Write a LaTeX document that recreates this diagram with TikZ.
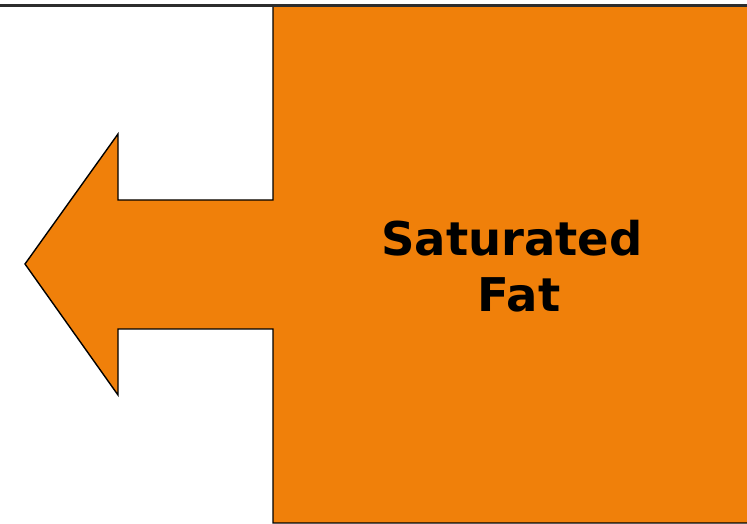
\documentclass[tikz,border=0pt]{standalone}
\usepackage{fontspec}
\setmainfont{DejaVu Sans}
\definecolor{fatorange}{RGB}{240,128,10}
\definecolor{topline}{RGB}{45,45,45}
\begin{document}
\begin{tikzpicture}[x=1pt,y=1pt,
  shapeline/.style={draw=black,line width=1.4pt,fill=fatorange,line join=miter},
  label/.style={font=\fontsize{46.5}{56}\selectfont\bfseries,align=center,text=black,inner sep=0pt}]
\useasboundingbox (0,0) rectangle (747,524);
\clip (0,0) rectangle (747,524);
% orange block with left arrow
\draw[shapeline] (273,518) -- (760,518) -- (760,1) -- (273,1) -- (273,195)
  -- (118,195) -- (118,129) -- (25,260) -- (118,390) -- (118,324) -- (273,324) -- cycle;
% top rule
\draw[topline,line width=3pt] (0,518.5) -- (747,518.5);
\node[label] (txt) at (512,258) {Saturated\\\hspace*{14pt}Fat};
\end{tikzpicture}
\end{document}
